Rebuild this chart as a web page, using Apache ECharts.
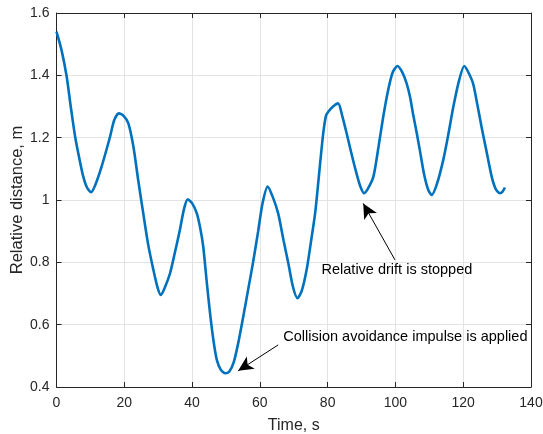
<!DOCTYPE html>
<html>
<head>
<meta charset="utf-8">
<script src="https://cdn.jsdelivr.net/npm/echarts@6/dist/echarts.min.js"></script>
<style>
  html, body { margin: 0; padding: 0; background: #fff; }
  #chart { width: 543px; height: 434px; }
</style>
</head>
<body>
<div id="chart"></div>
<script>
// Time samples (s) and relative distance (m)
const timeS = [
  0, 1.5, 3.0, 4.2, 5.5, 6.8, 7.9, 9.0, 10.2, 11.5, 13.3, 15.8, 17.0, 18.4, 19.8,
  21.2, 22.7, 24.1, 25.6, 27.0, 28.6, 29.8, 30.8, 32.0, 33.5, 35.0, 36.4, 37.6,
  38.7, 40.0, 41.4, 42.4, 43.3, 44.3, 45.3, 46.3, 47.3, 48.5, 49.8, 51.0, 52.3,
  53.6, 55.0, 56.5, 58.0, 59.5, 60.8, 62.3, 63.8, 65.4, 67.0, 68.4, 69.8, 71.1,
  72.4, 73.8, 75.0, 76.3, 77.0, 77.8, 78.7, 79.5, 80.2, 81.6, 83.1, 84.3, 85.6,
  87.0, 88.4, 89.6, 90.7, 91.8, 93.5, 95.0, 96.4, 97.8, 99.2, 100.6, 102.0, 103.3,
  104.3, 105.3, 106.3, 107.2, 108.5, 109.7, 110.7, 112.2, 114.1, 115.6, 117.1,
  118.7, 120.3, 121.5, 122.9, 124.1, 125.4, 126.8, 128.4, 129.6, 130.8, 131.5, 132.3
];
const distanceM = [
  1.54, 1.48, 1.396, 1.30, 1.203, 1.13, 1.075, 1.04, 1.025, 1.05, 1.107, 1.203, 1.255, 1.278, 1.27,
  1.246, 1.171, 1.064, 0.957, 0.86, 0.775, 0.72, 0.695, 0.72, 0.765, 0.835, 0.904, 0.97,
  1.002, 0.99, 0.957, 0.91, 0.85, 0.74, 0.637, 0.55, 0.487, 0.455, 0.444, 0.45, 0.48,
  0.54, 0.62, 0.71, 0.80, 0.90, 0.99, 1.043, 1.01, 0.957, 0.87, 0.797, 0.72, 0.685,
  0.71, 0.776, 0.86, 0.957, 1.03, 1.12, 1.214, 1.27, 1.283, 1.30, 1.31, 1.27, 1.214,
  1.15, 1.09, 1.045, 1.022, 1.035, 1.075, 1.17, 1.267, 1.35, 1.41, 1.43, 1.41, 1.374,
  1.331, 1.27, 1.214, 1.16, 1.08, 1.032, 1.016, 1.05, 1.128, 1.21, 1.30,
  1.38, 1.43, 1.41, 1.374, 1.31, 1.235, 1.16, 1.075, 1.035, 1.022, 1.025, 1.04
];

const xTicks = [0, 20, 40, 60, 80, 100, 120, 140];
const yTicks = [0.4, 0.6, 0.8, 1.0, 1.2, 1.4, 1.6];

// Annotations: [text, text anchor (t, d), arrow tail (t, d), arrow head (t, d)]
const notes = [
  ['Relative drift is stopped', [78.2, 0.775], [99.85, 0.808], [90.5, 0.989]],
  ['Collision avoidance impulse is applied', [66.9, 0.562], [65.4, 0.535], [53.6, 0.452]]
];

const axisColor = '#262626';
const gridColor = '#e3e3e3';
const font = 'Arial, "Liberation Sans", Helvetica, sans-serif';

const series = timeS.map((t, i) => [t, distanceM[i]]);

const chart = echarts.init(document.getElementById('chart'), null, { renderer: 'canvas' });

const fmt = v => {
  if (v === 1) return '1';
  return Number(v.toFixed(1)).toString();
};

const baseX = {
  type: 'value', min: xTicks[0], max: xTicks[xTicks.length - 1], interval: 20,
  axisLine: { show: true, onZero: false, lineStyle: { color: axisColor, width: 1 } },
  axisTick: { show: true, inside: true, length: 5, lineStyle: { color: axisColor } }
};
const baseY = {
  type: 'value', min: yTicks[0], max: yTicks[yTicks.length - 1], interval: 0.2,
  axisLine: { show: true, onZero: false, lineStyle: { color: axisColor, width: 1 } },
  axisTick: { show: true, inside: true, length: 5, lineStyle: { color: axisColor } }
};

chart.setOption({
  animation: false,
  backgroundColor: '#fff',
  grid: { left: 56.5, top: 13, right: 12, bottom: 47, containLabel: false, outerBoundsMode: 'none' },
  xAxis: [
    Object.assign({}, baseX, {
      position: 'bottom',
      name: 'Time, s', nameLocation: 'middle', nameGap: 31, nameMoveOverlap: false,
      nameTextStyle: { color: axisColor, fontSize: 16, fontFamily: font },
      axisLabel: { color: axisColor, fontSize: 14, fontFamily: font, margin: 9 },
      splitLine: { show: true, lineStyle: { color: gridColor, width: 1 } }
    }),
    Object.assign({}, baseX, {
      position: 'top', axisLabel: { show: false }, splitLine: { show: false }
    })
  ],
  yAxis: [
    Object.assign({}, baseY, {
      position: 'left',
      name: 'Relative distance, m', nameLocation: 'middle', nameGap: 31, nameRotate: 90,
      nameMoveOverlap: false,
      nameTextStyle: { color: axisColor, fontSize: 16.5, fontFamily: font },
      axisLabel: { color: axisColor, fontSize: 14, fontFamily: font, margin: 7, formatter: fmt },
      splitLine: { show: true, lineStyle: { color: gridColor, width: 1 } }
    }),
    Object.assign({}, baseY, {
      position: 'right', axisLabel: { show: false }, splitLine: { show: false }
    })
  ],
  series: [
    {
      type: 'line',
      data: series,
      smooth: 0.25,
      showSymbol: false,
      lineStyle: { color: '#0072BD', width: 2.6 },
      z: 3,
      markLine: {
        silent: true,
        symbol: ['none', 'arrow'],
        symbolSize: [11, 15],
        label: { show: false },
        lineStyle: { color: '#000', width: 1, type: 'solid' },
        data: notes.map(n => [
          { coord: n[2] },
          { coord: n[3] }
        ])
      },
      markPoint: {
        silent: true,
        symbol: 'circle',
        symbolSize: 0,
        data: notes.map(n => ({
          coord: n[1],
          label: {
            show: true,
            formatter: n[0],
            position: 'right',
            distance: 0,
            color: '#000',
            fontSize: 14.5,
            fontFamily: font
          }
        }))
      }
    }
  ]
});
</script>
</body>
</html>
